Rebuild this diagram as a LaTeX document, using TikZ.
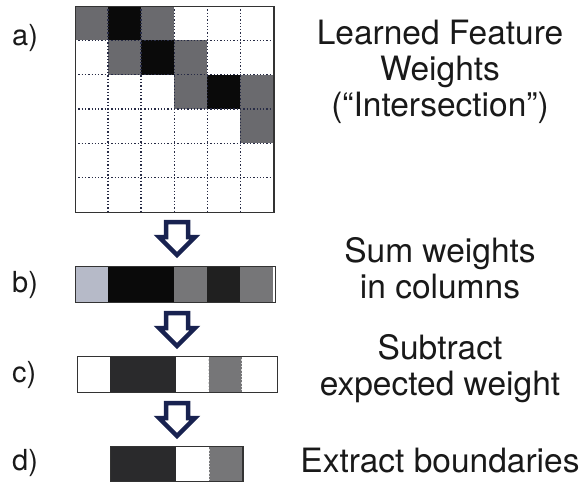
\documentclass[tikz,border=0pt]{standalone}
\usepackage{fontspec}
\setmainfont{TeX Gyre Heros}
\definecolor{cgray}{RGB}{106,106,110}
\definecolor{cblack}{RGB}{10,10,10}
\definecolor{clight}{RGB}{182,186,200}
\definecolor{cdark}{RGB}{32,32,32}
\definecolor{cdarkc}{RGB}{42,42,44}
\definecolor{cmid}{RGB}{118,118,120}
\definecolor{navy}{RGB}{24,34,80}
\definecolor{gridline}{RGB}{40,44,70}
\tikzset{
  cellbox/.style={draw=none},
  dotline/.style={gridline, line width=1.3pt, dash pattern=on 1.3pt off 2pt},
  frame/.style={draw=black!80, line width=1.4pt},
  lab/.style={font=\fontsize{29}{34}\selectfont, text=black!90, anchor=west, inner sep=0pt},
  desc/.style={font=\fontsize{33.5}{36}\selectfont, text=black!90, align=center, inner sep=0pt},
  pics/downarrow/.style={code={
    \draw[navy, line width=4.5pt, fill=white, line join=miter]
      (-11,2) -- (11,2) -- (11,17) -- (18,17) -- (0,35) -- (-18,17) -- (-11,17) -- cycle;
  }}
}
\begin{document}
\begin{tikzpicture}[x=1pt,y=-1pt]
\useasboundingbox (0,0) rectangle (582,482);
% ---- a) grid
\def\cw{33.05}
\def\ch{34.3}
\foreach \r/\c/\col in {0/0/cgray,0/1/cblack,0/2/cgray,1/1/cgray,1/2/cblack,1/3/cgray,2/3/cgray,2/4/cblack,2/5/cgray,3/5/cgray}{
  \fill[\col] (75+\c*\cw,6+\r*\ch) rectangle (75+\c*\cw+\cw,6+\r*\ch+\ch);
}
\foreach \i in {1,...,5}{
  \draw[dotline] (75+\i*\cw,6) -- (75+\i*\cw,212);
  \draw[dotline] (75,6+\i*\ch) -- (273,6+\i*\ch);
}
\node[frame, minimum width=198.3pt, minimum height=205.8pt, anchor=north west, inner sep=0pt] (grid) at (75,6) {};
% ---- b) column sums
\foreach \c/\col in {0/clight,1/cblack,2/cblack,3/cmid,4/cdark,5/cmid}{
  \fill[\col] (75+\c*\cw,266) rectangle (75+\c*\cw+\cw,302);
}
\node[frame, minimum width=200pt, minimum height=36pt, anchor=north west, inner sep=0pt] (barb) at (75,266) {};
% ---- c) subtract expected
\foreach \c/\col in {1/cdarkc,2/cdarkc,4/cmid}{
  \fill[\col] (76.5+\c*\cw,356) rectangle (76.5+\c*\cw+\cw,392);
}
\draw[dotline, white!70!gray] (76.5+4*\cw,356) -- (76.5+4*\cw,392);
\draw[dotline, white!70!gray] (76.5+5*\cw,356) -- (76.5+5*\cw,392);
\node[frame, minimum width=200pt, minimum height=36pt, anchor=north west, inner sep=0pt] (barc) at (76.5,356) {};
% ---- d) boundaries
\foreach \c/\col in {0/cdarkc,1/cdarkc,3/cmid}{
  \fill[\col] (110+\c*\cw,446) rectangle (110+\c*\cw+\cw,481);
}
\draw[dotline, white!70!gray] (110+3*\cw,446) -- (110+3*\cw,481);
\node[frame, minimum width=132.2pt, minimum height=35pt, anchor=north west, inner sep=0pt] (bard) at (110,446) {};
% ---- arrows
\pic at (177,220) {downarrow};
\pic at (177,311) {downarrow};
\pic at (177,401) {downarrow};
% ---- labels
\node[lab] (la) at (12,38) {a)};
\node[lab] (lb) at (12,285) {b)};
\node[lab] (lc) at (12,375) {c)};
\node[lab] (ld) at (12,463) {d)};
% ---- descriptions
\node[desc] (da) at (440,72) {Learned Feature\\Weights\\(“Intersection”)};
\node[desc] (db) at (440,268) {Sum weights\\in columns};
\node[desc] (dc) at (440,369) {Subtract\\expected weight};
\node[desc] (dd) at (440,461) {Extract boundaries};
\end{tikzpicture}
\end{document}
